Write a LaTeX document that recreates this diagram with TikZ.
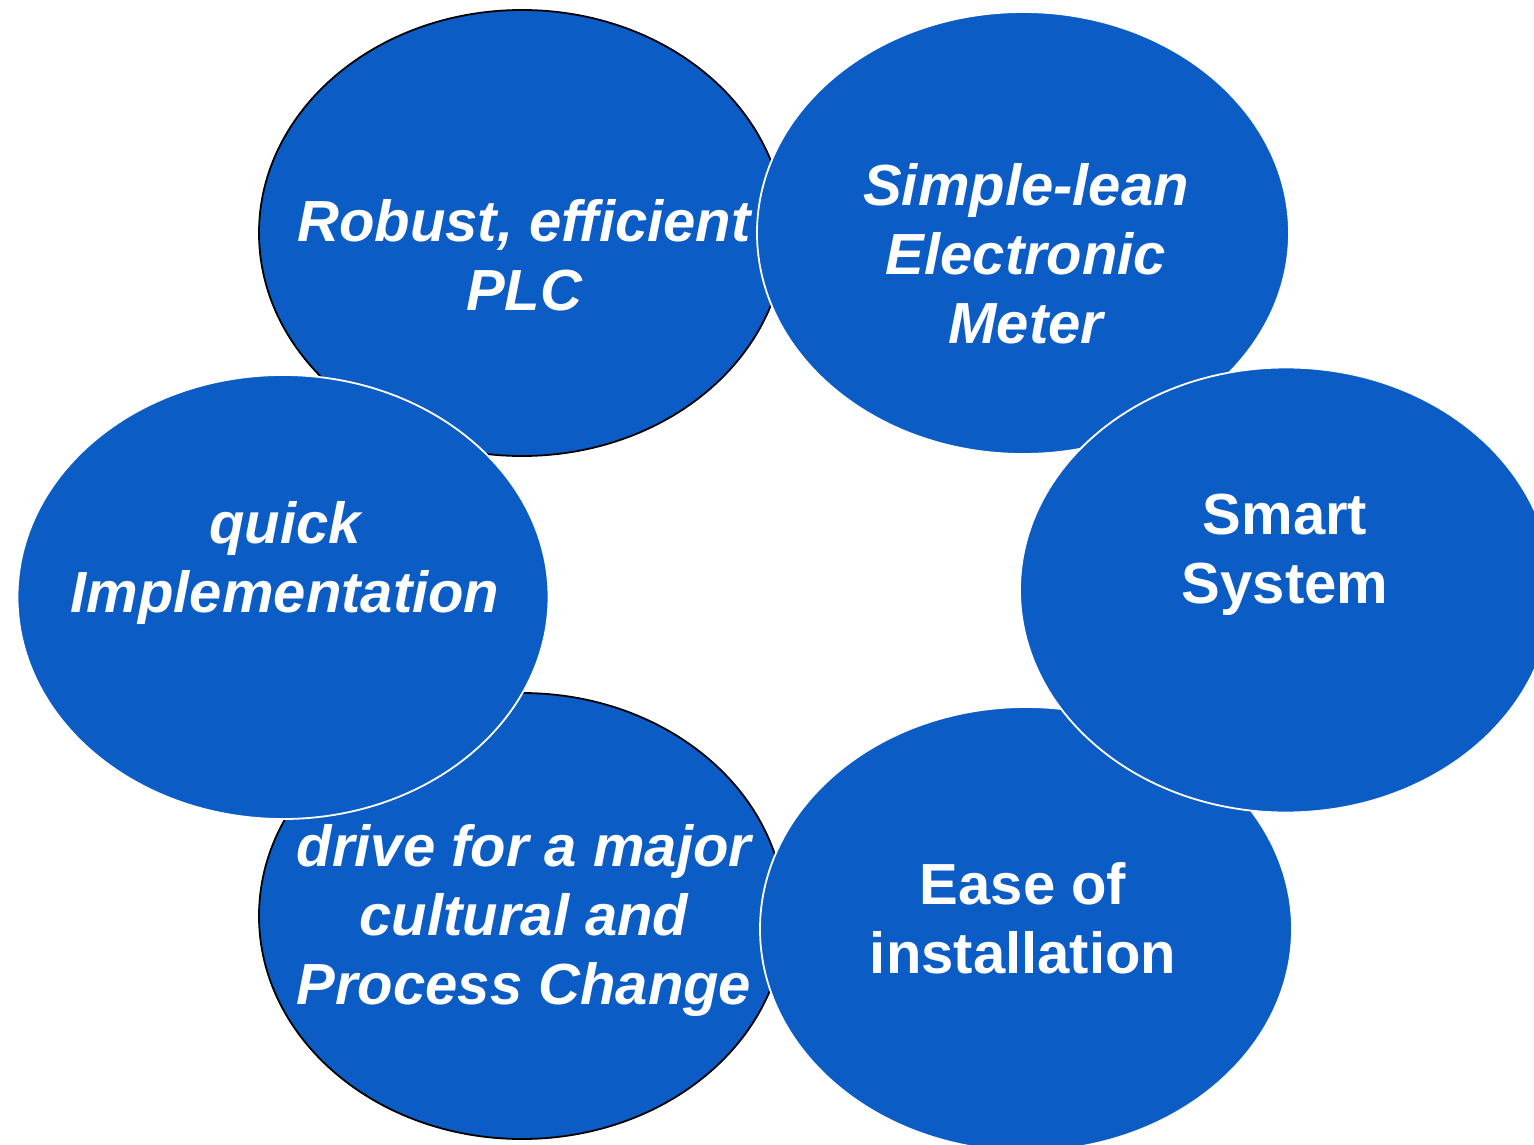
\documentclass[tikz,border=0pt]{standalone}
\usepackage{fontspec}
\setmainfont{Liberation Sans}
\usetikzlibrary{shapes.geometric}
\definecolor{bubble}{RGB}{11,92,196}
\tikzset{
  bub/.style={ellipse, fill=bubble, inner sep=0pt, line width=1.8pt},
  bubblack/.style={bub, draw=black},
  bubwhite/.style={bub, draw=white},
  lbl/.style={anchor=base, inner sep=0pt, text=white,
    font=\fontsize{58}{69}\selectfont\bfseries},
  lblit/.style={lbl, font=\fontsize{58}{69}\selectfont\bfseries\itshape},
}
\newcommand{\blines}[1]{\begin{tabular}[t]{@{}c@{}}#1\end{tabular}}
\begin{document}
\begin{tikzpicture}[x=1pt,y=-1pt]
\useasboundingbox (0,0) rectangle (1534,1145);
\clip (0,0) rectangle (1534,1145);
\node[bubblack, minimum width=526pt, minimum height=446pt] (robust) at (522,233) {};
\node[bubblack, minimum width=526pt, minimum height=446pt] (drive) at (522,916) {};
\node[bubwhite, minimum width=532pt, minimum height=442pt] (simple) at (1023,233) {};
\node[bubwhite, minimum width=532pt, minimum height=444pt] (ease) at (1026,929) {};
\node[bubwhite, minimum width=532pt, minimum height=445pt] (smart) at (1286,590) {};
\node[bubwhite, minimum width=531pt, minimum height=444pt] (quick) at (283,597) {};

\node[lblit] (trobust) at (524,241) {\blines{Robust, efficient\\PLC}};
\node[lblit] (tsimple) at (1026,205) {\blines{Simple-lean\\Electronic\\Meter}};
\node[lbl] (tsmart) at (1285,534) {\blines{Smart\\System}};
\node[lblit] (tquick) at (285,543) {\blines{quick\\Implementation}};
\node[lblit] (tdrive) at (524,866) {\blines{drive for a major\\cultural and\\Process Change}};
\node[lbl] (tease) at (1023,904) {\blines{Ease of\\installation}};
\end{tikzpicture}
\end{document}
